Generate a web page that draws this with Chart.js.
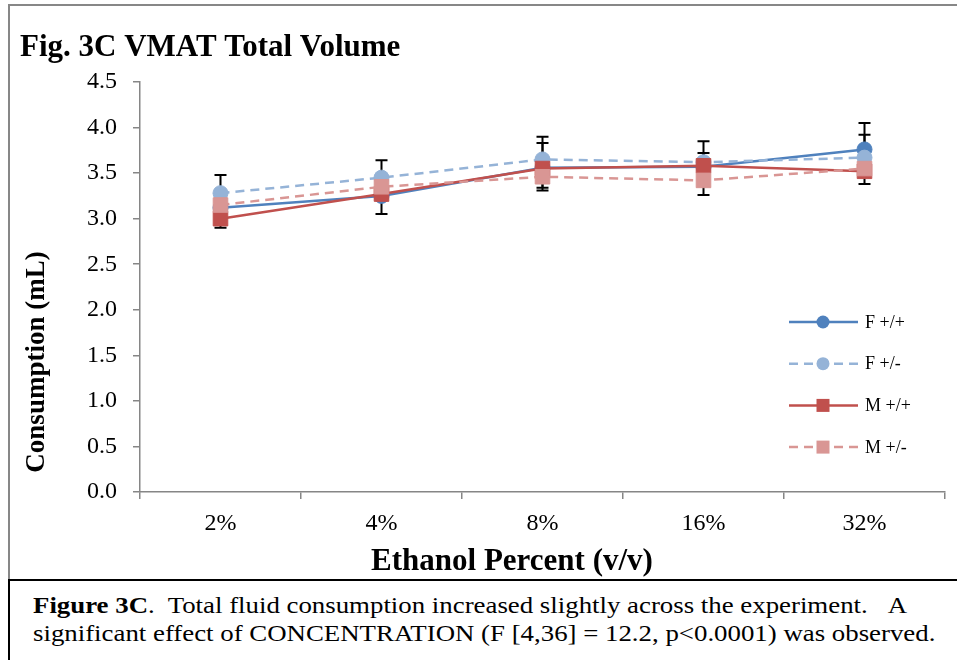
<!DOCTYPE html>
<html><head><meta charset="utf-8">
<script src="https://cdn.jsdelivr.net/npm/chart.js@4/dist/chart.umd.min.js"></script>
<style>
html,body{margin:0;padding:0;background:#fff;width:957px;height:660px;overflow:hidden;}
#frame{position:absolute;left:8px;top:4px;width:1100px;height:600px;border-top:2px solid #878787;border-left:2px solid #878787;box-sizing:border-box;}
#wrap{position:absolute;left:0;top:0;width:957px;height:580px;}
#caption{position:absolute;left:8px;top:579px;width:1100px;height:120px;border-top:2px solid #000;border-left:2px solid #000;background:#fff;font-family:"Liberation Serif","Times New Roman",serif;font-size:24px;line-height:28px;color:#000;padding:10px 0 0 23px;box-sizing:border-box;white-space:nowrap;}
#caption span{display:inline-block;transform:scaleX(1.118);transform-origin:0 0;}
#caption .wide{display:inline-block;width:18px;}
</style></head>
<body>
<div id="frame"></div>
<div id="wrap"><canvas id="c" width="957" height="580"></canvas></div>
<div id="caption"><span><b>Figure 3C</b>.&nbsp; Total fluid consumption increased slightly across the experiment.<span class="wide"></span>A<br>significant effect of CONCENTRATION (F [4,36] = 12.2, p&lt;0.0001) was observed.</span></div>
<script>
// ---- data ----
const chartTitle = 'Fig. 3C VMAT Total Volume';
const xTitle = 'Ethanol Percent (v/v)';
const yTitle = 'Consumption (mL)';
const categories = ['2%', '4%', '8%', '16%', '32%'];
const seriesNames = ['F +/+', 'F +/-', 'M +/+', 'M +/-'];
const fHomo = [3.12, 3.25, 3.56, 3.57, 3.76];
const fHet  = [3.28, 3.45, 3.65, 3.62, 3.67];
const mHomo = [3.00, 3.27, 3.55, 3.58, 3.52];
const mHet  = [3.15, 3.35, 3.46, 3.42, 3.55];
// error bars (F series drawn upward, M series drawn downward)
const fHomoErrUp   = [0.18, 0.18, 0.27, 0.15, 0.29];
const fHetErrUp    = [0.20, 0.19, 0.25, 0.23, 0.25];
const mHomoErrDown = [0.10, 0.22, 0.21, 0.22, 0.14];
const mHetErrDown  = [0.12, 0.10, 0.15, 0.16, 0.09];

const SERIF = '"Liberation Serif","Times New Roman",serif';
const AXIS = '#868686';

const datasets = [
  {label: seriesNames[0], data: fHomo, errUp: fHomoErrUp, errDown: null,
   borderColor:'#4F81BD', backgroundColor:'#4F81BD', pointBackgroundColor:'#4F81BD', pointBorderColor:'#4F81BD',
   borderDash:[], pointStyle:'circle', pointRadius:7.5, order:4},
  {label: seriesNames[1], data: fHet, errUp: fHetErrUp, errDown: null,
   borderColor:'#95B3D7', backgroundColor:'#95B3D7', pointBackgroundColor:'#95B3D7', pointBorderColor:'#95B3D7',
   borderDash:[9,6], pointStyle:'circle', pointRadius:7.5, order:3},
  {label: seriesNames[2], data: mHomo, errUp: null, errDown: mHomoErrDown,
   borderColor:'#C0504D', backgroundColor:'#C0504D', pointBackgroundColor:'#C0504D', pointBorderColor:'#C0504D',
   borderDash:[], pointStyle:'rect', pointRadius:10.3, order:2},
  {label: seriesNames[3], data: mHet, errUp: null, errDown: mHetErrDown,
   borderColor:'#D99694', backgroundColor:'#D99694', pointBackgroundColor:'#D99694', pointBorderColor:'#D99694',
   borderDash:[9,6], pointStyle:'rect', pointRadius:10.3, order:1}
];
datasets.forEach(d => { d.borderWidth = 2.5; d.pointBorderWidth = 1; d.tension = 0; d.fill = false; d.pointHoverRadius = d.pointRadius; });

const errorBars = {
  id: 'errorBars',
  beforeDatasetsDraw(chart) {
    const ctx = chart.ctx, xs = chart.scales.x, ys = chart.scales.y;
    ctx.save();
    ctx.strokeStyle = '#000'; ctx.lineWidth = 2;
    chart.data.datasets.forEach(ds => {
      ds.data.forEach((v, j) => {
        const x = xs.getPixelForValue(j);
        const y0 = ys.getPixelForValue(v);
        [[ds.errUp, 1], [ds.errDown, -1]].forEach(([arr, s]) => {
          if (!arr) return;
          const y1 = ys.getPixelForValue(v + s * arr[j]);
          ctx.beginPath();
          ctx.moveTo(x, y0); ctx.lineTo(x, y1);
          ctx.moveTo(x - 6, y1); ctx.lineTo(x + 6, y1);
          ctx.stroke();
        });
      });
    });
    ctx.restore();
  }
};

const texts = {
  id: 'texts',
  afterDraw(chart) {
    const ctx = chart.ctx;
    ctx.save();
    ctx.fillStyle = '#000';
    ctx.font = 'bold 31px ' + SERIF;
    ctx.textAlign = 'left'; ctx.textBaseline = 'alphabetic';
    ctx.fillText(chartTitle, 20, 56);
    // y title
    ctx.save();
    ctx.translate(37, 362); ctx.rotate(-Math.PI / 2);
    ctx.font = 'bold 27px ' + SERIF;
    ctx.textAlign = 'center'; ctx.textBaseline = 'middle';
    ctx.fillText(yTitle, 0, 0);
    ctx.restore();
    // x title
    ctx.font = 'bold 31px ' + SERIF;
    ctx.textAlign = 'center'; ctx.textBaseline = 'alphabetic';
    ctx.fillText(xTitle, 512, 570);
    // legend
    const ys0 = 322, gap = 41.7;
    chart.data.datasets.forEach((ds, i) => {
      const y = ys0 + i * gap;
      ctx.strokeStyle = ds.borderColor; ctx.lineWidth = 2.5;
      ctx.setLineDash(ds.borderDash);
      ctx.beginPath(); ctx.moveTo(789, y); ctx.lineTo(858, y); ctx.stroke();
      ctx.setLineDash([]);
      ctx.fillStyle = ds.backgroundColor;
      ctx.beginPath();
      if (ds.pointStyle === 'circle') ctx.arc(823, y, 6.5, 0, Math.PI * 2);
      else ctx.rect(823 - 6.5, y - 6.5, 13, 13);
      ctx.fill();
      ctx.fillStyle = '#000';
      ctx.font = '18px ' + SERIF;
      ctx.textAlign = 'left'; ctx.textBaseline = 'middle';
      ctx.fillText(ds.label, 865, y + 1);
    });
    ctx.restore();
  }
};

new Chart(document.getElementById('c'), {
  type: 'line',
  data: { labels: categories, datasets },
  plugins: [errorBars, texts],
  options: {
    responsive: false, animation: false, devicePixelRatio: 1,
    layout: { padding: { top: 82, right: 12, left: 0, bottom: 0 } },
    plugins: { legend: { display: false }, tooltip: { enabled: false }, title: { display: false } },
    scales: {
      x: {
        offset: true,
        afterFit(s) { s.height = 88; },
        grid: { display: true, offset: true, drawOnChartArea: false, drawTicks: true, tickLength: 7, color: AXIS, lineWidth: 1.5 },
        border: { display: true, color: AXIS, width: 1.5 },
        ticks: { color: '#000', font: { family: SERIF, size: 24 }, padding: 10, maxRotation: 0 }
      },
      y: {
        min: 0, max: 4.5,
        afterFit(s) { s.width = 140; },
        grid: { display: true, drawOnChartArea: false, drawTicks: true, tickLength: 7, color: AXIS, lineWidth: 1.5 },
        border: { display: true, color: AXIS, width: 1.5 },
        ticks: { stepSize: 0.5, color: '#000', font: { family: SERIF, size: 24 }, padding: 16,
                 callback: v => Number(v).toFixed(1) }
      }
    }
  }
});
</script>
</body></html>
